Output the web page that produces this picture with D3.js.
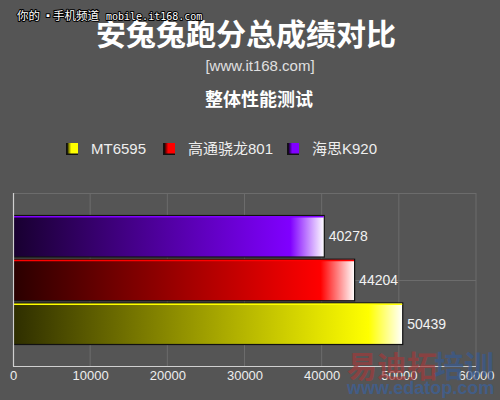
<!DOCTYPE html>
<html><head><meta charset="utf-8">
<script src="https://cdn.jsdelivr.net/npm/d3@7"></script>
<style>
html,body{margin:0;padding:0;background:#555555;}
svg{display:block;}
</style></head>
<body>
<svg id="chart" width="500" height="400"></svg>
<script>
const categories = ["海思K920", "高通骁龙801", "MT6595"];
const scores = [40278, 44204, 50439];
const legendOrder = ["MT6595", "高通骁龙801", "海思K920"];
const xTicks = [0, 10000, 20000, 30000, 40000, 50000, 60000];
const barColors = {"MT6595": ["#2e2e00", "#ffff00"], "高通骁龙801": ["#2a0000", "#ff0000"], "海思K920": ["#180030", "#8000ff"]};

const svg = d3.select("#chart");
const W = 500, H = 400;
svg.append("rect").attr("width", W).attr("height", H).attr("fill", "#555555");
const cjk = "'Noto Sans CJK SC', 'Liberation Sans', Arial, sans-serif";
const latin = "'Liberation Sans', Arial, 'Noto Sans CJK SC', sans-serif";

// titles
svg.append("text").attr("x", 246).attr("y", 45).attr("text-anchor", "middle")
  .attr("font-family", cjk).attr("font-weight", "bold").attr("font-size", 30)
  .attr("fill", "#ffffff").text("安兔兔跑分总成绩对比");
svg.append("text").attr("x", 260).attr("y", 71).attr("text-anchor", "middle")
  .attr("font-family", latin).attr("font-size", 15).attr("fill", "#e0e0e0").text("[www.it168.com]");
svg.append("text").attr("x", 259).attr("y", 106).attr("text-anchor", "middle")
  .attr("font-family", cjk).attr("font-weight", "bold").attr("font-size", 18)
  .attr("fill", "#ffffff").text("整体性能测试");

// top-left watermark
const wmParts = [["你的", 17, cjk, 11.5], ["▪", 43, cjk, 10], ["手机频道", 53, cjk, 11.5],
  ["mobile.it168.com", 106, "'DejaVu Sans Mono', 'Liberation Mono', monospace", 10]];
wmParts.forEach(p => {
  svg.append("text").attr("x", p[1]).attr("y", 20).attr("fill", "#ffffff")
    .attr("stroke", "#000").attr("stroke-width", 2).attr("paint-order", "stroke").attr("stroke-linejoin", "round")
    .attr("font-family", p[2]).attr("font-size", p[3]).text(p[0]);
});

// scales
const x = d3.scaleLinear().domain([0, 60000]).range([13, 476]);
const y = d3.scaleBand().domain(categories).range([215.5, 344.5]).paddingInner(0.05).paddingOuter(0);
const plotTop = 193, plotBottom = 366;

// gridlines
const grid = svg.append("g");
grid.selectAll("line.v").data(xTicks.slice(1)).enter().append("line")
  .attr("x1", d => x(d)).attr("x2", d => x(d)).attr("y1", plotTop).attr("y2", plotBottom)
  .attr("stroke", "#6c6c6c").attr("stroke-width", 1);
grid.selectAll("line.h").data([plotTop, 280]).enter().append("line")
  .attr("x1", x(0)).attr("x2", x(60000)).attr("y1", d => d + 0.5).attr("y2", d => d + 0.5)
  .attr("stroke", "#6c6c6c").attr("stroke-width", 1);

// gradients
const defs = svg.append("defs");
categories.forEach((c, i) => {
  const w = x(scores[i]) - x(0);
  const g = defs.append("linearGradient").attr("id", "bar" + i).attr("x1", "0").attr("x2", "1").attr("y1", "0").attr("y2", "0");
  g.append("stop").attr("offset", 0).attr("stop-color", barColors[c][0]);
  g.append("stop").attr("offset", 1 - 34 / w).attr("stop-color", barColors[c][1]);
  g.append("stop").attr("offset", 1).attr("stop-color", "#ffffff");
  const lg = defs.append("linearGradient").attr("id", "leg" + i).attr("x1", "0").attr("x2", "1").attr("y1", "0").attr("y2", "0");
  lg.append("stop").attr("offset", 0).attr("stop-color", barColors[c][0]);
  lg.append("stop").attr("offset", 0.35).attr("stop-color", barColors[c][1]);
  lg.append("stop").attr("offset", 1).attr("stop-color", barColors[c][1]);
});

// bars
const bars = svg.append("g");
categories.forEach((c, i) => {
  bars.append("rect").attr("x", x(0) + 0.5).attr("y", y(c)).attr("width", x(scores[i]) - x(0))
    .attr("height", y.bandwidth()).attr("fill", `url(#bar${i})`).attr("stroke", "#111").attr("stroke-width", 1.2);
  bars.append("line").attr("x1", x(0) + 1).attr("x2", x(scores[i])).attr("y1", y(c) + 1.2).attr("y2", y(c) + 1.2)
    .attr("stroke", barColors[c][1]).attr("stroke-width", 1.5);
  bars.append("text").attr("x", x(scores[i]) + 5).attr("y", y(c) + y.bandwidth() / 2).attr("dy", "0.36em")
    .attr("font-family", latin).attr("font-size", 14).attr("fill", "#f2f2f2").text(scores[i]);
});

// axes lines
svg.append("line").attr("x1", 13.5).attr("x2", 13.5).attr("y1", plotTop).attr("y2", plotBottom + 0.5)
  .attr("stroke", "#d0d0d0").attr("stroke-width", 1.2);
svg.append("line").attr("x1", 13).attr("x2", 476).attr("y1", plotBottom + 0.5).attr("y2", plotBottom + 0.5)
  .attr("stroke", "#d0d0d0").attr("stroke-width", 1.2);

// x axis labels
const xAxis = d3.axisBottom(x).tickValues(xTicks).tickSize(0).tickPadding(0).tickFormat(d3.format("d"));
const ax = svg.append("g").attr("transform", `translate(0,${plotBottom})`).call(xAxis);
ax.select(".domain").remove();
ax.selectAll("text").attr("y", 14).attr("dy", 0).attr("font-family", latin).attr("font-size", 13).attr("fill", "#eeeeee");

// legend
const legendX = [66, 163, 287];
legendOrder.forEach((c, j) => {
  const i = categories.indexOf(c);
  const g = svg.append("g").attr("transform", `translate(${legendX[j]},143)`);
  g.append("rect").attr("x", 0).attr("y", 0).attr("width", 12).attr("height", 12).attr("fill", "#111");
  g.append("rect").attr("x", 1.5).attr("y", 0).attr("width", 10.5).attr("height", 10.5).attr("fill", `url(#leg${i})`);
  g.append("text").attr("x", 25).attr("y", 11).attr("font-family", latin).attr("font-size", 15)
    .attr("fill", "#eeeeee").text(c);
});

// bottom-right watermark
const wm2 = svg.append("g");
wm2.append("text").attr("x", 347).attr("y", 377).attr("font-family", cjk).attr("font-weight", "bold").attr("font-size", 30)
  .attr("fill", "#a03a3a").attr("fill-opacity", 0.7).text("易迪拓");
wm2.append("text").attr("x", 434).attr("y", 377).attr("font-family", cjk).attr("font-weight", "bold").attr("font-size", 30)
  .attr("fill", "#3a5a8c").attr("fill-opacity", 0.75).text("培训");
wm2.append("text").attr("x", 347).attr("y", 394).attr("font-family", latin).attr("font-weight", "bold").attr("font-size", 18)
  .attr("fill", "#3f5f90").attr("fill-opacity", 0.85).text("www.edatop.com");
</script>
</body></html>
